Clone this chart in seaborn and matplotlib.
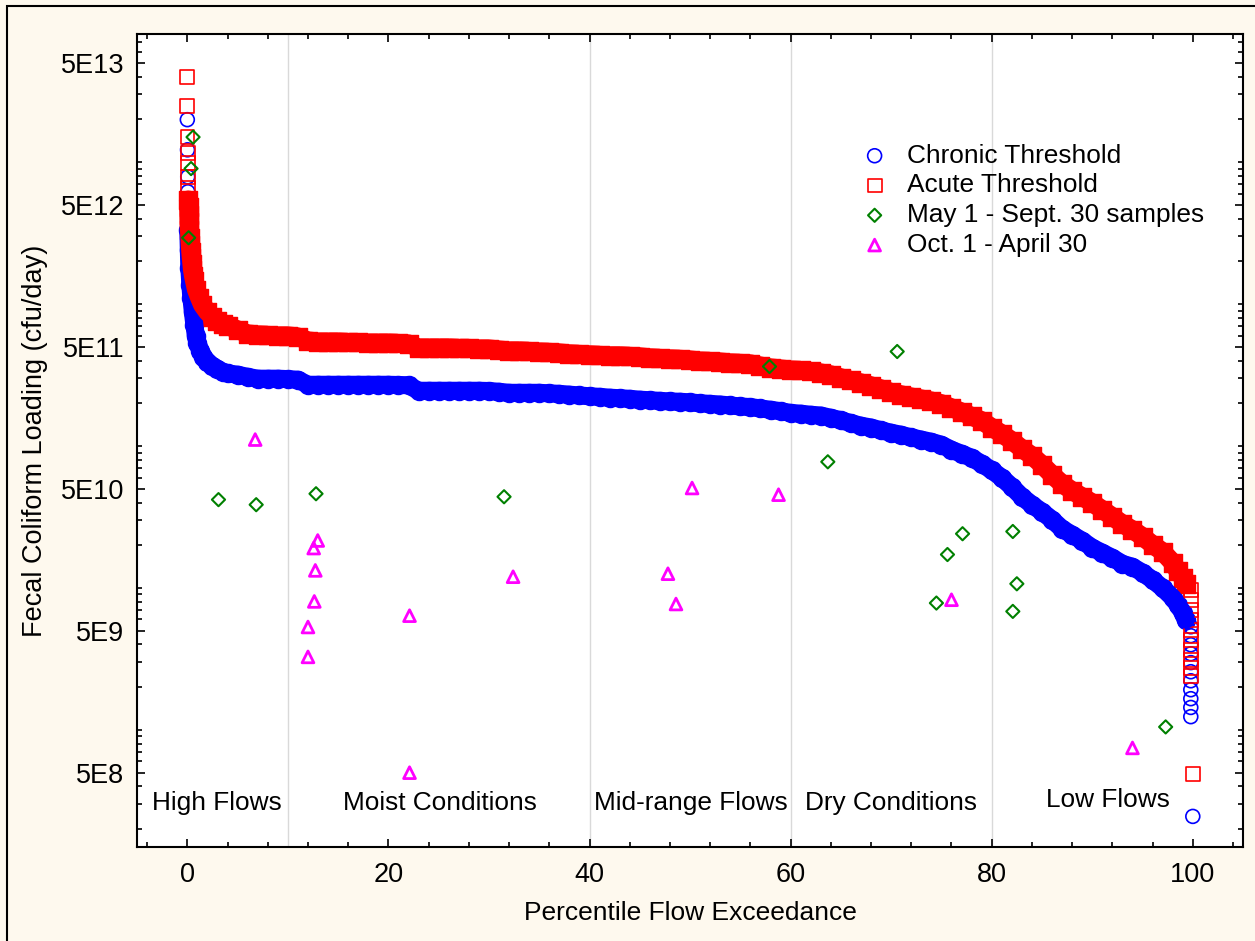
import numpy as np
import pandas as pd
import matplotlib.pyplot as plt
import seaborn as sns
from matplotlib.ticker import LogLocator, MultipleLocator, NullFormatter
from matplotlib.patches import Rectangle

# Style
sns.set_theme(style="ticks")
plt.rcParams['font.family'] = ['Liberation Sans', 'DejaVu Sans']
plt.rcParams['text.color'] = 'black'
plt.rcParams['axes.labelcolor'] = 'black'
plt.rcParams['xtick.color'] = 'black'
plt.rcParams['ytick.color'] = 'black'

# Load duration curves (percentile flow exceedance vs loading, cfu/day)
chronic_pct = [0.10, 0.15, 0.20, 0.30, 0.40, 0.55, 0.70, 0.85, 1.0, 1.3, 1.6, 2.0, 2.5, 3.0, 3.5, 4.0,
               5, 6, 7, 8, 9, 10, 11, 12, 13, 14, 15, 16, 17, 18, 19, 20, 21, 22, 23, 24, 25, 26, 27,
               28, 29, 30, 31, 32, 33, 34, 35, 36, 37, 38, 39, 40, 41, 42, 43, 44, 45, 46, 47, 48, 49,
               50, 51, 52, 53, 54, 55, 56, 57, 58, 59, 60, 61, 62, 63, 64, 65, 66, 67, 68, 69, 70, 71,
               72, 73, 74, 75, 76, 77, 78, 79, 80, 81, 82, 83, 84, 85, 86, 87, 88, 89, 90, 91, 92, 93,
               94, 95, 96, 97, 98, 98.5, 99.0, 99.3]
chronic_load = [3.33e12, 2.41e12, 1.80e12, 1.37e12, 1.11e12, 8.82e11, 7.14e11, 5.98e11, 5.33e11,
                4.69e11, 4.26e11, 3.92e11, 3.67e11, 3.50e11, 3.33e11, 3.25e11,
                3.18e11, 3.07e11, 2.98e11, 2.98e11, 2.98e11, 2.96e11, 2.93e11, 2.70e11, 2.70e11,
                2.70e11, 2.70e11, 2.70e11, 2.70e11, 2.70e11, 2.70e11, 2.70e11, 2.69e11, 2.68e11,
                2.45e11, 2.45e11, 2.45e11, 2.45e11, 2.45e11, 2.45e11, 2.45e11, 2.44e11, 2.41e11,
                2.37e11, 2.37e11, 2.37e11, 2.37e11, 2.35e11, 2.33e11, 2.30e11, 2.27e11, 2.24e11,
                2.22e11, 2.19e11, 2.17e11, 2.15e11, 2.12e11, 2.10e11, 2.08e11, 2.06e11, 2.05e11,
                2.03e11, 2.00e11, 1.98e11, 1.96e11, 1.93e11, 1.90e11, 1.88e11, 1.84e11, 1.80e11,
                1.76e11, 1.71e11, 1.69e11, 1.66e11, 1.64e11, 1.58e11, 1.52e11, 1.45e11, 1.39e11,
                1.35e11, 1.29e11, 1.24e11, 1.20e11, 1.15e11, 1.11e11, 1.07e11, 1.02e11, 9.41e10,
                8.82e10, 8.26e10, 7.50e10, 6.75e10, 5.98e10, 5.16e10, 4.39e10, 3.86e10, 3.44e10,
                3.03e10, 2.61e10, 2.37e10, 2.15e10, 1.92e10, 1.77e10, 1.63e10, 1.48e10, 1.41e10,
                1.28e10, 1.14e10, 1.00e10, 8.54e9, 7.62e9, 6.70e9, 5.98e9]
chronic_peak_pct = [0.0, 0.02, 0.04, 0.05, 0.07, 0.08]
chronic_peak_load = [1.99e13, 1.22e13, 7.87e12, 6.18e12, 4.84e12, 4.05e12]
chronic_tail_pct = [99.8] * 11 + [100.0]
chronic_tail_load = [5.33e9, 4.61e9, 3.98e9, 3.44e9, 2.98e9, 2.57e9, 2.22e9, 1.92e9, 1.66e9,
                     1.44e9, 1.24e9, 2.46e8]

acute_pct = [0.10, 0.12, 0.15, 0.17, 0.20, 0.24, 0.28, 0.33, 0.38, 0.44, 0.50, 0.60, 0.70, 0.90,
             1.2, 1.5, 2.0, 2.5, 3.0, 3.5, 4.0, 5, 6, 7, 8, 9, 10, 11, 12, 13, 14, 15, 16, 17, 18,
             19, 20, 21, 22, 23, 24, 25, 26, 27, 28, 29, 30, 31, 32, 33, 34, 35, 36, 37, 38, 39, 40,
             41, 42, 43, 44, 45, 46, 47, 48, 49, 50, 51, 52, 53, 54, 55, 56, 57, 58, 59, 60, 61, 62,
             63, 64, 65, 66, 67, 68, 69, 70, 71, 72, 73, 74, 75, 76, 77, 78, 79, 80, 81, 82, 83, 84,
             85, 86, 87, 88, 89, 90, 91, 92, 93, 94, 95, 96, 97, 98, 98.5, 99.0, 99.3]
acute_load = [5.42e12, 4.84e12, 4.26e12, 3.80e12, 3.33e12, 2.93e12, 2.61e12, 2.33e12, 2.12e12,
              1.92e12, 1.74e12, 1.58e12, 1.46e12, 1.26e12, 1.11e12, 9.88e11, 8.82e11, 8.13e11,
              7.62e11, 7.26e11, 7.03e11, 6.59e11, 6.18e11, 6.08e11, 6.03e11, 5.98e11, 5.98e11,
              5.88e11, 5.51e11, 5.42e11, 5.42e11, 5.42e11, 5.37e11, 5.37e11, 5.33e11, 5.33e11,
              5.33e11, 5.29e11, 5.25e11, 4.92e11, 4.92e11, 4.92e11, 4.92e11, 4.88e11, 4.88e11,
              4.84e11, 4.84e11, 4.76e11, 4.69e11, 4.69e11, 4.65e11, 4.61e11, 4.58e11, 4.54e11,
              4.47e11, 4.43e11, 4.40e11, 4.36e11, 4.33e11, 4.33e11, 4.29e11, 4.26e11, 4.19e11,
              4.15e11, 4.12e11, 4.09e11, 4.05e11, 3.98e11, 3.95e11, 3.92e11, 3.86e11, 3.83e11,
              3.80e11, 3.67e11, 3.56e11, 3.50e11, 3.44e11, 3.41e11, 3.36e11, 3.28e11, 3.18e11,
              3.03e11, 2.90e11, 2.79e11, 2.66e11, 2.53e11, 2.39e11, 2.30e11, 2.22e11, 2.15e11,
              2.08e11, 1.99e11, 1.86e11, 1.74e11, 1.62e11, 1.51e11, 1.35e11, 1.22e11, 1.09e11,
              9.57e10, 8.54e10, 7.38e10, 6.28e10, 5.42e10, 4.84e10, 4.39e10, 3.98e10, 3.56e10,
              3.18e10, 2.83e10, 2.57e10, 2.30e10, 2.02e10, 1.80e10, 1.51e10, 1.32e10, 1.18e10,
              1.07e10]
acute_peak_pct = [0.0, 0.0, 0.02, 0.03, 0.04, 0.05, 0.07]
acute_peak_load = [3.96e13, 2.49e13, 1.51e13, 1.16e13, 9.88e12, 7.87e12, 6.59e12]
acute_tail_pct = [99.8] * 10 + [100.0]
acute_tail_load = [9.72e9, 8.26e9, 7.03e9, 5.98e9, 5.08e9, 4.32e9, 3.67e9, 3.13e9, 2.74e9,
                   2.41e9, 4.9e8]

# Samples
summer_pct = [0.57, 0.37, 0.13, 3.1, 6.85, 12.8, 31.5, 57.9, 70.6, 63.7, 77.1, 75.6, 82.1, 82.5,
              74.5, 82.1, 97.3]
summer_load = [1.50e13, 9.0e12, 2.93e12, 4.19e10, 3.86e10, 4.61e10, 4.39e10, 3.63e11, 4.63e11,
               7.74e10, 2.41e10, 1.72e10, 2.50e10, 1.07e10, 7.83e9, 6.84e9, 1.05e9]
winter_pct = [6.75, 12.97, 12.57, 12.73, 12.63, 12.0, 12.0, 22.1, 22.1, 32.4, 50.2, 58.8, 47.8,
              48.6, 76.0, 94.0]
winter_load = [1.11e11, 2.16e10, 1.91e10, 1.33e10, 8.04e9, 5.31e9, 3.27e9, 6.38e9, 5.0e8,
               1.20e10, 5.06e10, 4.54e10, 1.26e10, 7.71e9, 8.26e9, 7.47e8]

zone_bounds = [10, 40, 60, 80]
zone_names = ['High Flows', 'Moist Conditions', 'Mid-range Flows', 'Dry Conditions', 'Low Flows']
zone_x = [2.9, 25.1, 50.1, 70.0, 91.6]
zone_y = [3.05e8, 3.05e8, 3.05e8, 3.05e8, 3.2e8]

ytick_vals = [5e8, 5e9, 5e10, 5e11, 5e12, 5e13]
ytick_labels = ['5E8', '5E9', '5E10', '5E11', '5E12', '5E13']

fig = plt.figure(figsize=(12.55, 9.41), dpi=100, facecolor='#fef9ee')
ax = fig.add_axes([0.1092, 0.1, 0.8813, 0.864])
ax.set_facecolor('white')
ax.set_yscale('log')

for xv in zone_bounds:
    ax.axvline(xv, color='#d9d9d9', lw=1, zorder=0)

blue, red, green, magenta = '#0000ff', '#ff0000', '#008000', '#ff00ff'

# Dense parts of the duration curves
line_kw = dict(estimator=None, legend=False, ax=ax, solid_capstyle='round', solid_joinstyle='round')
sns.lineplot(x=chronic_pct, y=chronic_load, color=blue, lw=13, **line_kw)
sns.scatterplot(x=chronic_pct, y=chronic_load, marker='o', s=170, color=blue, edgecolor=blue,
                linewidth=1, ax=ax, legend=False)
sns.scatterplot(x=chronic_peak_pct + chronic_tail_pct, y=chronic_peak_load + chronic_tail_load,
                marker='o', s=100, color=blue, facecolor='none', edgecolor=blue, linewidth=1.2,
                ax=ax, label='Chronic Threshold')

sns.lineplot(x=acute_pct, y=acute_load, color=red, lw=13.5, **line_kw)
sns.scatterplot(x=acute_pct, y=acute_load, marker='s', s=165, color=red, edgecolor=red,
                linewidth=1, ax=ax, legend=False)
sns.scatterplot(x=acute_peak_pct + acute_tail_pct, y=acute_peak_load + acute_tail_load,
                marker='s', s=100, color=red, facecolor='none', edgecolor=red, linewidth=1.2,
                ax=ax, label='Acute Threshold')

sns.scatterplot(x=summer_pct, y=summer_load, marker='D', s=45, color=green, facecolor='none',
                edgecolor=green, linewidth=1.5, ax=ax, label='May 1 - Sept. 30 samples', zorder=5)
sns.scatterplot(x=winter_pct, y=winter_load, marker='^', s=72, color=magenta, facecolor='none',
                edgecolor=magenta, linewidth=2.0, ax=ax, label='Oct. 1 - April 30', zorder=5)

for name, zx, zy in zip(zone_names, zone_x, zone_y):
    ax.text(zx, zy, name, ha='center', va='center', fontsize=18.9, color='black')

ax.set_xlim(-5, 105)
ax.set_ylim(1.5e8, 8e13)
ax.set_xticks([0, 20, 40, 60, 80, 100])
ax.xaxis.set_minor_locator(MultipleLocator(4))
ax.set_yticks(ytick_vals, ytick_labels)
ax.yaxis.set_minor_locator(LogLocator(base=10, subs=(1, 2, 3, 4, 6, 7, 8, 9), numticks=20))
ax.yaxis.set_minor_formatter(NullFormatter())
ax.tick_params(which='both', direction='in', top=True, right=True, color='black', width=1.2)
ax.tick_params(which='major', length=6, labelsize=19.5, labelcolor='black')
ax.tick_params(axis='x', which='major', pad=11)
ax.tick_params(axis='y', which='major', pad=9)
ax.tick_params(which='minor', length=3.5)
for sp in ax.spines.values():
    sp.set_color('black')
    sp.set_linewidth(1.5)

ax.set_xlabel('Percentile Flow Exceedance', fontsize=19, labelpad=9, color='black')
ax.set_ylabel('Fecal Coliform Loading (cfu/day)', fontsize=19.5, labelpad=9, color='black')

ax.legend(loc='upper left', bbox_to_anchor=(0.655, 0.865), frameon=False, fontsize=18.9,
          handlelength=1.0, handletextpad=0.75, labelspacing=0.22, borderpad=0, borderaxespad=0,
          labelcolor='black')

# Outer frame (only top and left edges fall inside the image)
fig.patches.append(Rectangle((0.0056, -0.5), 2.0, 0.9936 + 0.5, transform=fig.transFigure,
                             fill=False, ec='black', lw=1.5))

fig.savefig('out.png', dpi=100, facecolor=fig.get_facecolor())
